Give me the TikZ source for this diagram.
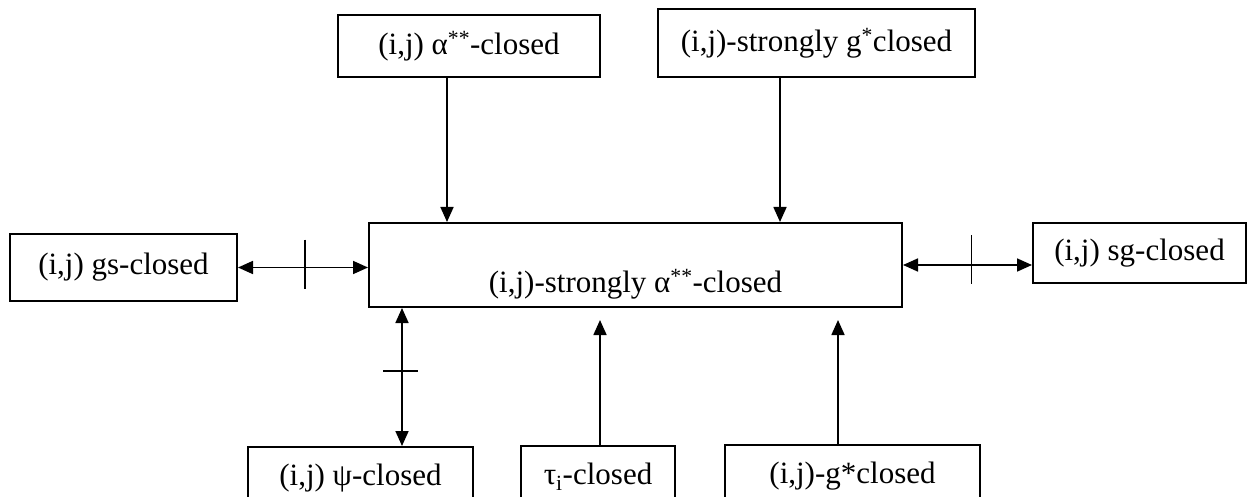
\documentclass[tikz,border=0pt]{standalone}
\usepackage{fontspec}
\setmainfont{Liberation Serif}
\usetikzlibrary{arrows.meta}
\begin{document}
\begin{tikzpicture}[x=1pt,y=-1pt,
  box/.style={draw,line width=2pt,inner sep=0pt,font=\fontsize{31}{37}\selectfont},
  lbl/.style={inner sep=0pt,font=\fontsize{31}{37}\selectfont},
  arr/.style={-{Triangle[length=15pt,width=13pt]},line width=1.7pt},
  biarr/.style={{Triangle[length=15pt,width=13pt]}-{Triangle[length=15pt,width=13pt]},line width=1.7pt},
  tickline/.style={line width=1.2pt}]
\useasboundingbox (0,0) rectangle (1247,497);
% boxes
\node[box,minimum width=262pt,minimum height=62pt] (alpha) at (469,46) {(i,j) α\textsuperscript{**}-closed};
\node[box,minimum width=317pt,minimum height=68pt] (strg) at (816.5,43) {(i,j)-strongly g\textsuperscript{*}closed};
\node[box,minimum width=227pt,minimum height=67pt] (gs) at (123.5,267.5) {(i,j) gs-closed};
\node[box,minimum width=533pt,minimum height=84pt] (center) at (635.5,265) {};
\node[lbl] (ctext) at (635.5,284) {(i,j)-strongly α\textsuperscript{**}-closed};
\node[box,minimum width=213pt,minimum height=60pt] (sg) at (1139.5,253) {(i,j) sg-closed};
\node[box,minimum width=225pt,minimum height=62pt] (psi) at (360.5,478) {(i,j) ψ-closed};
\node[box,minimum width=154pt,minimum height=62pt] (tau) at (598,477) {τ\textsubscript{i}-closed};
\node[box,minimum width=255pt,minimum height=62pt] (gstar) at (852.5,476) {(i,j)-g*closed};
% connectors
\draw[arr] ([xshift=-22pt]alpha.south) -- ([xshift=-22pt]alpha.south |- center.north);
\draw[arr] ([xshift=-36.5pt]strg.south) -- ([xshift=-36.5pt]strg.south |- center.north);
\draw[biarr] (gs.east) -- coordinate[pos=0.515] (t1) (gs.east -| center.west);
\draw[tickline] ([yshift=28pt]t1) -- ([yshift=-21pt]t1);
\draw[biarr] (center.east) -- coordinate[pos=0.534] (t2) (center.east -| sg.west);
\draw[tickline] ([yshift=30pt]t2) -- ([yshift=-19pt]t2);
\draw[biarr] ([xshift=41.5pt]psi.north) -- coordinate[pos=0.543] (t3) ([xshift=41.5pt]psi.north |- center.south);
\draw[tickline] ([xshift=-19pt]t3) -- ([xshift=16pt]t3);
\draw[arr] ([xshift=2pt]tau.north) -- ([xshift=2pt,yshift=-12pt]tau.north |- center.south);
\draw[arr] ([xshift=-14.5pt]gstar.north) -- ([xshift=-14.5pt,yshift=-12pt]gstar.north |- center.south);
\end{tikzpicture}
\end{document}
